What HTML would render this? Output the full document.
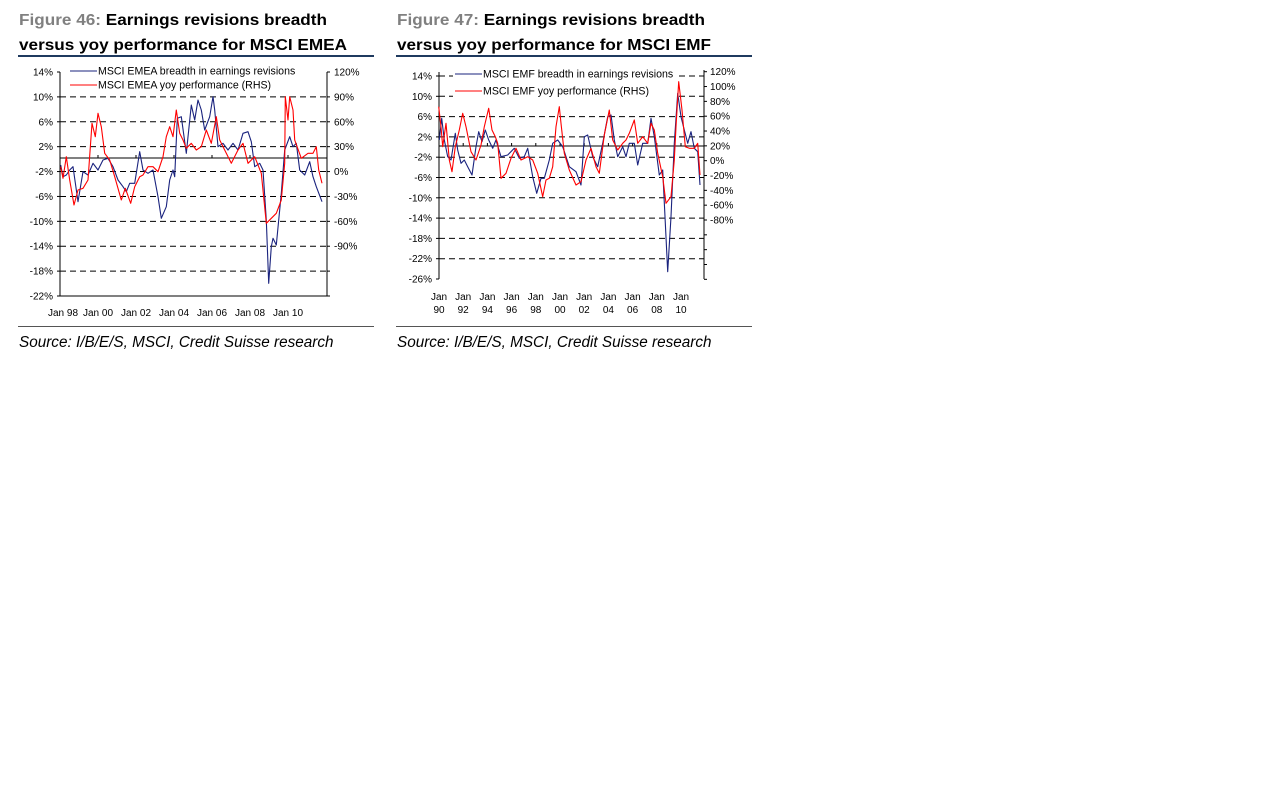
<!DOCTYPE html>
<html><head><meta charset="utf-8"><style>
body{margin:0;background:#fff;width:1267px;height:798px;overflow:hidden}
svg{display:block}
text{font-family:"Liberation Sans",Arial,sans-serif}
.t{font-size:15.5px;font-weight:bold;fill:#000}
.g{fill:#808080}
.a{font-size:10px;fill:#000}
.l{font-size:10.6px;fill:#000}
.s{font-size:15.3px;font-style:italic;fill:#000}
</style></head><body>
<svg id="c" width="1267" height="798" xmlns="http://www.w3.org/2000/svg">
<text class="t" x="19" y="25" textLength="308" lengthAdjust="spacingAndGlyphs"><tspan class="g">Figure 46:</tspan> Earnings revisions breadth</text>
<text class="t" x="19" y="50" textLength="328" lengthAdjust="spacingAndGlyphs">versus yoy performance for MSCI EMEA</text>
<rect x="18" y="55" width="356" height="2" fill="#1f3a5f"/>
<text class="t" x="397" y="25" textLength="308" lengthAdjust="spacingAndGlyphs"><tspan class="g">Figure 47:</tspan> Earnings revisions breadth</text>
<text class="t" x="397" y="50" textLength="314" lengthAdjust="spacingAndGlyphs">versus yoy performance for MSCI EMF</text>
<rect x="396" y="55" width="356" height="2" fill="#1f3a5f"/>
<rect x="18" y="326" width="356" height="1" fill="#555"/>
<rect x="396" y="326" width="356" height="1" fill="#555"/>
<text class="s" x="19" y="347">Source: I/B/E/S, MSCI, Credit Suisse research</text>
<text class="s" x="397" y="347">Source: I/B/E/S, MSCI, Credit Suisse research</text>
<g id="g"></g>
</svg>
<script>
var g=document.getElementById('g'),h='';
function L(x1,y1,x2,y2,c,d,w){h+='<line x1="'+x1+'" y1="'+y1+'" x2="'+x2+'" y2="'+y2+'" stroke="'+(c||'#000')+'" stroke-width="'+(w||1)+'"'+(d?' stroke-dasharray="'+d+'"':'')+'/>';}
function T(x,y,s,a,c){h+='<text class="'+(c||'a')+'" x="'+x+'" y="'+y+'" text-anchor="'+(a||'end')+'">'+s+'</text>';}
function P(pts,ox,oy,c){var s=pts.map(function(p){return (ox+p[0]/3).toFixed(1)+','+(oy+p[1]/3).toFixed(1)}).join(' ');h+='<polyline points="'+s+'" fill="none" stroke="'+c+'" stroke-width="1.1" stroke-linejoin="round"/>';}
// Chart 1
var x0=60,x1=327,yt=72,yb=296,st=(yb-yt)/9;
for(var i=0;i<10;i++){var y=yt+i*st;if(i>0&&i<9)L(x0,y,x1,y,'#000','6,4');L(x0-3,y,x0,y);L(x1,y,x1+3,y);T(x0-7,y+3.5,(14-4*i)+'%');}
L(x0,yt,x0,yb);L(x1,yt,x1,yb);L(x0,yb,x1,yb);L(x0,158,x1,158);
for(var i=0;i<8;i++){var y=yt+i*st;T(x1+7,y+3.5,(120-30*i)+'%','start');}
var yl=['98','00','02','04','06','08','10'];
for(var i=0;i<7;i++){var x=x0+i*38;L(x,155,x,158);T(x+(i==0?3:0),316,'Jan '+yl[i],'middle');}
h+='<rect x="97" y="64" width="205" height="28" fill="#fff"/>';
L(70,71,97,71,'#1a237e');T(98,74.5,'MSCI EMEA breadth in earnings revisions','start','l');
L(70,85,97,85,'#f00');T(98,88.5,'MSCI EMEA yoy performance (RHS)','start','l');
P([[128,315],[135,350],[145,345],[155,330],[165,320],[180,425],[195,335],[210,345],[225,310],[240,330],[255,300],[270,295],[285,320],[300,360],[315,380],[325,395],[335,370],[350,370],[365,275],[375,330],[390,340],[405,330],[420,410],[430,475],[445,440],[455,360],[465,330],[470,350],[478,175],[490,170],[505,280],[520,135],[530,180],[540,120],[550,150],[560,210],[575,170],[585,110],[590,150],[600,260],[615,250],[630,270],[645,250],[660,270],[675,220],[690,215],[700,245],[710,320],[725,310],[735,330],[745,480],[752,670],[760,560],[765,535],[775,555],[790,400],[800,270],[815,230],[825,260],[835,250],[845,330],[860,345],[875,305],[885,350],[895,380],[912,425]],18,60,'#1a237e');
P([[128,320],[135,355],[145,290],[155,360],[168,435],[180,390],[195,385],[210,360],[222,190],[232,230],[240,160],[250,200],[260,280],[275,300],[290,350],[310,420],[322,385],[338,430],[350,380],[365,350],[375,345],[390,320],[405,320],[420,335],[435,290],[445,230],[455,200],[465,230],[475,150],[485,220],[495,240],[505,265],[520,250],[535,270],[550,260],[565,210],[580,250],[595,170],[605,240],[625,280],[640,310],[660,270],[675,250],[690,310],[710,290],[730,340],[745,490],[760,475],[775,460],[790,420],[800,310],[802,110],[810,180],[815,110],[825,150],[830,240],[850,295],[870,280],[885,280],[895,260],[902,330],[912,370]],18,60,'#f00');
// Chart 2
var X0=439,X1=704,Yt=76,Yb=279,St=(Yb-Yt)/10;
for(var i=0;i<11;i++){var y=Yt+i*St;if(i<10)L(X0,y,X1,y,'#000','6,4');L(X0-3,y,X0,y);T(X0-7,y+3.5,(14-4*i)+'%');}
var rs=(220-71.7)/10;
for(var i=0;i<15;i++){var y=71.7+i*rs;if(y>Yb+1)break;L(X1,y,X1+3,y);if(i<11)T(X1+6,y+3.5,(120-20*i)+'%','start');}
L(X0,Yt-4,X0,Yb);L(X1,70,X1,Yb);L(X0,146,X1,146);
var y2=['90','92','94','96','98','00','02','04','06','08','10'];
for(var i=0;i<11;i++){var x=X0+i*24.2;L(x,143,x,146);T(x,300,'Jan','middle');T(x,313,y2[i],'middle');}
h+='<rect x="453" y="67" width="226" height="30" fill="#fff"/>';
L(455,74,482,74,'#1a237e');T(483,77.5,'MSCI EMF breadth in earnings revisions','start','l');
L(455,91,482,91,'#f00');T(483,94.5,'MSCI EMF yoy performance (RHS)','start','l');
P([[130,240],[137,175],[145,240],[155,290],[165,300],[178,220],[185,270],[195,310],[205,300],[215,320],[228,345],[240,260],[248,215],[258,245],[268,210],[278,240],[290,265],[300,240],[315,290],[335,285],[355,265],[370,295],[385,290],[395,265],[410,350],[422,400],[435,355],[445,355],[460,300],[470,250],[485,240],[500,260],[520,320],[540,335],[555,375],[565,230],[575,225],[590,290],[605,320],[620,250],[635,170],[645,165],[655,240],[665,290],[680,260],[690,290],[700,250],[715,250],[725,315],[740,250],[755,250],[765,175],[775,230],[790,345],[800,330],[815,635],[825,470],[835,250],[845,100],[855,170],[865,210],[875,250],[885,215],[895,265],[905,275],[912,375]],396,60,'#1a237e');
P([[128,140],[135,200],[140,260],[150,190],[160,300],[168,335],[178,260],[190,210],[200,160],[210,200],[225,275],[240,300],[255,255],[265,200],[278,145],[288,210],[298,230],[305,250],[315,355],[330,340],[345,295],[360,265],[375,300],[395,290],[410,300],[425,340],[440,410],[450,360],[460,355],[470,320],[480,200],[490,140],[495,190],[505,280],[520,330],[540,375],[555,365],[570,300],[585,265],[600,320],[610,340],[625,225],[640,150],[650,240],[665,270],[680,250],[690,240],[700,220],[715,180],[725,250],[740,230],[755,250],[765,190],[775,210],[785,280],[800,350],[810,430],[825,410],[835,300],[840,200],[848,65],[858,150],[868,260],[880,265],[895,265],[905,250],[912,345]],396,60,'#f00');
g.innerHTML=h;
</script>
</body></html>
